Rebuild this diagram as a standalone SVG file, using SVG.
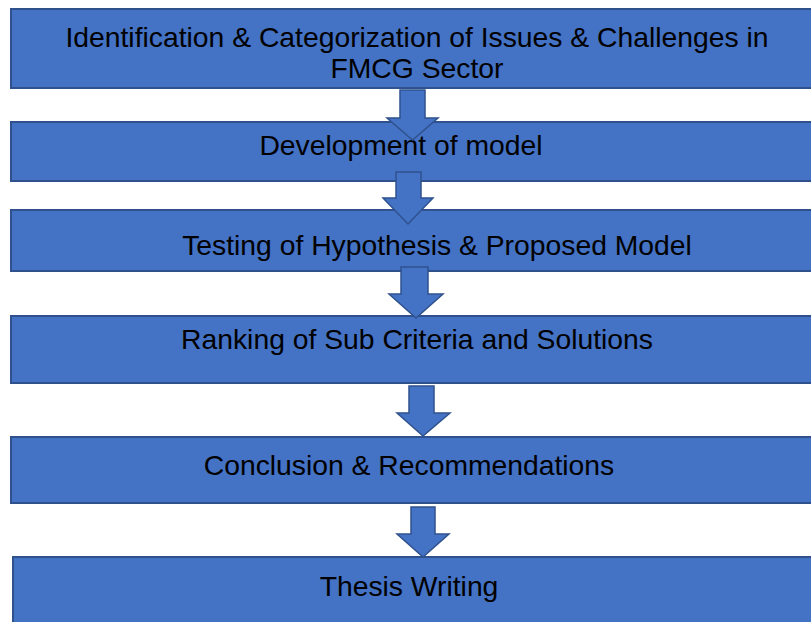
<svg xmlns="http://www.w3.org/2000/svg" width="811" height="622" viewBox="0 0 811 622">
  <style>
    .box { fill: #4472C4; stroke: #2F528F; stroke-width: 2; }
    .arrow { fill: #4472C4; stroke: #2F528F; stroke-width: 1.5; stroke-linejoin: miter; }
    .label { font-family: "Liberation Sans", Arial, sans-serif; font-size: 28.3px; fill: #000000; text-anchor: middle; }
  </style>
  <rect width="811" height="622" fill="#FFFFFF"/>

  <g id="step-identification">
    <rect class="box" x="11" y="9" width="820" height="79"/>
    <text class="label" x="417" y="47">Identification &amp; Categorization of Issues &amp; Challenges in</text>
    <text class="label" x="417" y="78">FMCG Sector</text>
  </g>

  <g id="step-development">
    <rect class="box" x="11" y="122" width="820" height="59"/>
    <text class="label" x="401" y="155">Development of model</text>
  </g>

  <g id="step-testing">
    <rect class="box" x="11" y="210" width="820" height="61"/>
    <text class="label" x="437" y="255">Testing of Hypothesis &amp; Proposed Model</text>
  </g>

  <g id="step-ranking">
    <rect class="box" x="11" y="316" width="820" height="67"/>
    <text class="label" x="417" y="349">Ranking of Sub Criteria and Solutions</text>
  </g>

  <g id="step-conclusion">
    <rect class="box" x="11" y="437" width="820" height="66"/>
    <text class="label" x="409" y="475">Conclusion &amp; Recommendations</text>
  </g>

  <g id="step-thesis">
    <rect class="box" x="13" y="557" width="820" height="80"/>
    <text class="label" x="409" y="596">Thesis Writing</text>
  </g>

  <!-- block arrows between consecutive steps -->
  <g id="connectors">
    <path class="arrow" d="M400,90 H425 V118 H438 L412.5,140 L387,118 H400 Z"/>
    <path class="arrow" d="M396,172 H421 V198 H433 L408,224 L383,198 H396 Z"/>
    <path class="arrow" d="M401,267 H428 V294 H443 L416,318 L389,294 H401 Z"/>
    <path class="arrow" d="M409,386 H434 V413 H450 L423,436 L397,413 H409 Z"/>
    <path class="arrow" d="M411,507 H435 V534 H449 L423,557 L397,534 H411 Z"/>
  </g>
</svg>
